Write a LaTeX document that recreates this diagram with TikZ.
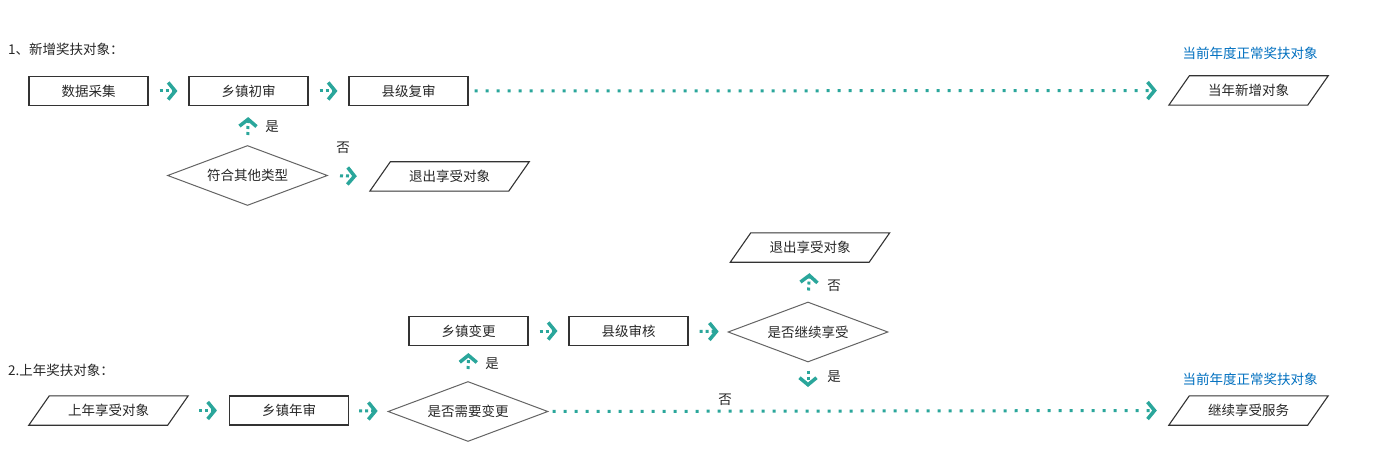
\documentclass[tikz,border=0pt]{standalone}
\usepackage{fontspec}
\setmainfont{Noto Sans CJK SC}
\usetikzlibrary{arrows.meta,shapes.geometric}
\definecolor{teal1}{RGB}{42,166,155}
\definecolor{txt}{RGB}{40,40,40}
\definecolor{blue1}{RGB}{0,112,192}
\definecolor{edge}{RGB}{51,51,51}
\definecolor{dedge}{RGB}{100,100,100}
\newcommand{\drawpara}[1]{\draw[edge,line width=1.1pt] ([xshift=20.5pt]#1.north west) -- (#1.north east) -- ([xshift=-20.5pt]#1.south east) -- (#1.south west) -- cycle;}
\begin{document}
\begin{tikzpicture}[x=1pt,y=-1pt,
  every node/.style={font=\fontsize{13.5pt}{15pt}\selectfont, text=txt},
  stepbox/.style={draw=edge, line width=1.1pt, rectangle, minimum width=119pt, minimum height=29pt, inner sep=0pt},
  parabox/.style={rectangle, minimum width=159pt, minimum height=29pt, inner sep=0pt},
  decision/.style={draw=dedge, line width=1pt, diamond, minimum width=160pt, minimum height=60pt, inner sep=0pt, aspect=2.67},
  flow/.style={draw=teal1, line width=3pt, dash pattern=on 3pt off 8pt,
    -{Straight Barb[length=7pt,width=17pt,line width=3.5pt]}},
  shortflow/.style={draw=teal1, line width=3pt, dash pattern=on 3pt off 3pt,
    -{Straight Barb[length=7pt,width=17pt,line width=3.5pt]}},
  lbl/.style={font=\fontsize{13.5pt}{15pt}\selectfont, text=txt, inner sep=0pt},
  bluelbl/.style={font=\fontsize{13.5pt}{15pt}\selectfont, text=blue1, inner sep=0pt}]
\useasboundingbox (0,0) rectangle (1381,457);
\fill[white] (0,0) rectangle (1381,457);

% section 1
\node[lbl, anchor=west] (t1) at (8,49) {1、新增奖扶对象：};
\node[stepbox] (a1) at (88.5,91) {数据采集};
\node[stepbox] (a2) at (248.5,91) {乡镇初审};
\node[stepbox] (a3) at (408.5,91) {县级复审};
\node[parabox] (p1) at (1248.5,90.5) {当年新增对象};
\drawpara{p1}
\node[bluelbl] (bl1) at (1250,53) {当前年度正常奖扶对象};
\node[decision] (d1) at (247.5,175.5) {符合其他类型};
\node[parabox] (e1) at (449.5,176.5) {退出享受对象};
\drawpara{e1}

\draw[shortflow, shorten <=11pt, shorten >=11pt] (a1) -- (a2);
\draw[shortflow, shorten <=11pt, shorten >=11pt] (a2) -- (a3);
\draw[flow, shorten <=6pt, shorten >=12pt] (a3) -- (p1);
\draw[shortflow, shorten <=10pt, shorten >=11pt] (d1.north) -- (a2.south);
\node[lbl] (y1) at (272,127) {是};
\draw[shortflow, shorten <=12pt, shorten >=13pt] (d1.east) -- (e1.west);
\node[lbl] (n1) at (343,148) {否};

% section 2
\node[lbl, anchor=west] (t2) at (8,370) {2.上年奖扶对象：};
\node[parabox] (b1) at (108.5,410.5) {上年享受对象};
\drawpara{b1}
\node[stepbox] (b2) at (289,410.5) {乡镇年审};
\node[decision] (d2) at (468,411.5) {是否需要变更};
\node[stepbox] (c1) at (468.5,331) {乡镇变更};
\node[stepbox] (c2) at (628.5,331) {县级审核};
\node[decision] (d3) at (808,332) {是否继续享受};
\node[parabox] (e2) at (810,247.5) {退出享受对象};
\drawpara{e2}
\node[parabox] (p2) at (1248.5,410.5) {继续享受服务};
\drawpara{p2}
\node[bluelbl] (bl2) at (1250,379) {当前年度正常奖扶对象};
\coordinate (m) at (808,392);

\draw[shortflow, shorten <=11pt, shorten >=12pt] (b1) -- (b2);
\draw[shortflow, shorten <=10pt, shorten >=11pt] (b2) -- (d2);
\draw[shortflow, shorten <=12pt, shorten >=7pt] (d2.north) -- (c1.south);
\node[lbl] (y2) at (492,364) {是};
\draw[shortflow, shorten <=11pt, shorten >=11pt] (c1) -- (c2);
\draw[shortflow, shorten <=11pt, shorten >=10pt] (c2) -- (d3);
\draw[shortflow, shorten <=11pt, shorten >=11pt] (d3.north) -- (e2.south);
\node[lbl] (n2) at (834,286) {否};
\draw[shortflow, shorten <=8pt, shorten >=5pt] (d3.south) -- (m);
\node[lbl] (y3) at (834,377) {是};
\draw[flow, shorten <=4pt, shorten >=12pt] (d2.east) -- (p2.west);
\node[lbl] (n3) at (725,400) {否};
\end{tikzpicture}
\end{document}
